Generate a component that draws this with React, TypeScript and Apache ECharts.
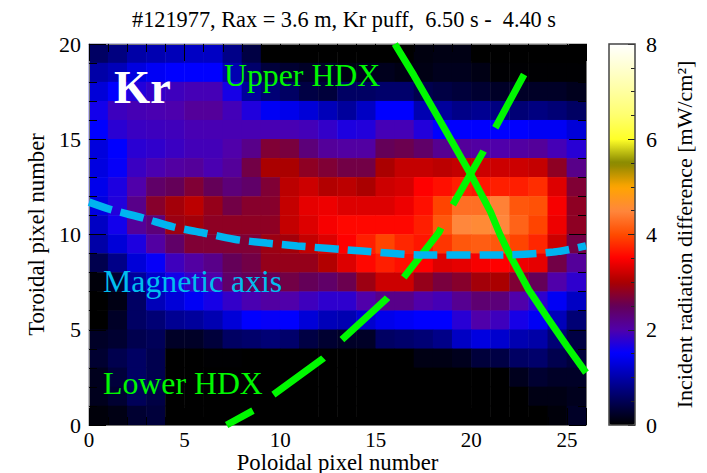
import React, { useEffect, useRef } from "react";
import * as echarts from "echarts";

const FONT = "Liberation Serif";
const titleText = "#121977, Rax = 3.6 m, Kr puff,  6.50 s -  4.40 s";

const xCategories = Array.from({ length: 26 }, (_, i) => String(i));
const yCategories = Array.from({ length: 20 }, (_, i) => String(i));

// rows listed from the top of the picture (toroidal pixel 19) to the bottom (0)
const row19 = [.58,.75,.98,1.04,1.09,1.15,1.15,.8,.4,0,0,0,0,0,0,0,0,.09,.12,.12,0,0,0,0,0,0];
const row18 = [.98,1.09,1.32,1.44,1.5,1.5,1.5,1.04,.63,.35,.29,.23,.23,.12,.17,.17,.12,.12,.17,.17,.12,.02,.02,.02,.02,.02];
const row17 = [1.27,1.5,1.71,1.82,1.89,1.93,1.93,1.64,.92,.69,.58,.4,.35,.58,.58,.63,.63,.46,.4,.35,.29,.23,.23,.23,.23,.17];
const row16 = [1.62,1.88,1.94,1.96,1.98,2.1,2.1,1.92,1.7,1.44,1.38,1.27,1.09,.92,1.15,1.5,1.5,1.04,.92,.8,.86,.75,.69,.75,.69,.58];
const row15 = [1.5,1.76,1.86,1.88,1.9,1.95,1.95,1.95,1.95,1.95,1.95,1.92,1.82,1.68,1.71,1.93,1.93,1.71,1.5,1.5,1.5,1.5,1.5,1.44,1.44,1.27];
const row14 = [1.3,1.5,1.76,1.8,1.86,1.92,1.92,2.0,2.2,2.7,2.65,2.3,2.1,2.05,2.05,2.5,2.55,2.4,2.15,2.1,2.05,2.0,2.05,2.1,1.93,1.75];
const row13 = [1.32,1.54,1.86,1.96,2.05,2.1,1.96,2.1,2.6,3.0,3.0,2.8,2.7,2.6,2.6,3.0,3.15,3.15,3.1,3.15,3.2,3.2,3.2,3.15,2.8,2.2];
const row12 = [1.38,1.68,2.0,2.4,2.5,2.7,2.5,2.3,2.4,2.7,3.1,3.2,3.05,3.1,3.0,3.2,3.25,3.5,3.6,3.7,3.65,3.7,3.7,3.8,3.3,2.7];
const row11 = [1.32,1.71,2.2,2.75,2.95,3.1,2.85,2.6,2.75,2.75,3.15,3.35,3.4,3.3,3.3,3.3,3.4,3.6,3.95,4.3,4.3,4.45,4.1,4.05,3.45,2.8];
const row10 = [1.15,1.61,2.1,2.3,2.9,2.95,2.8,2.8,2.8,2.8,3.15,3.3,3.45,3.55,3.55,3.55,3.55,3.7,4.1,4.5,4.55,4.5,4.2,3.95,3.4,2.8];
const row9 = [.98,1.27,1.68,2.05,2.4,2.7,2.7,2.7,2.7,2.9,2.95,3.15,3.3,3.5,3.7,3.95,3.75,3.65,3.85,4.1,4.15,4.1,3.95,3.75,3.2,2.6];
const row8 = [.46,.8,1.27,1.54,1.89,2.05,2.2,2.5,2.6,2.85,2.85,2.85,3.05,3.3,3.55,3.7,3.6,3.5,3.3,3.35,3.45,3.5,3.4,3.35,2.6,2.1];
const row7 = [.06,.29,.92,1.21,1.64,1.82,2.0,2.4,2.5,2.5,2.6,2.5,2.4,2.55,2.9,3.2,3.2,2.85,2.65,2.75,2.95,3.0,2.7,2.5,2.0,1.79];
const row6 = [0,.12,.58,1.09,1.27,1.44,1.64,1.82,1.96,2.05,2.0,1.89,1.79,1.79,2.0,2.2,2.2,2.0,1.93,2.15,2.35,2.3,2.0,1.79,1.44,1.15];
const row5 = [0,.23,.58,.69,.86,.92,1.04,1.27,1.5,1.54,1.5,1.27,1.09,1.04,1.21,1.38,1.44,1.5,1.5,1.75,2.0,1.89,1.64,1.44,1.09,.69];
const row4 = [.23,.29,.46,.52,.23,.23,.35,.58,.63,.69,.63,.4,.29,.23,.23,.58,.63,.69,.8,1.15,1.32,1.21,1.04,.98,.69,.4];
const row3 = [.29,.46,.58,.46,0,0,.02,.02,0,0,0,0,0,0,0,0,0,.12,.12,.17,.35,.4,.58,.63,.46,.35];
const row2 = [.17,.35,.58,.46,0,0,0,0,0,0,0,0,0,0,0,0,0,0,0,0,0,0,.17,.29,.23,.23];
const row1 = [.17,.29,.52,.4,0,0,0,0,0,0,0,0,0,0,0,0,0,0,0,0,0,0,0,.12,.12,.17];
const row0 = [.06,.12,.29,.35,0,0,0,0,0,0,0,0,0,0,0,0,0,0,0,0,0,0,0,0,.06,.23];
const rows = [row19,row18,row17,row16,row15,row14,row13,row12,row11,row10,row9,row8,row7,row6,row5,row4,row3,row2,row1,row0];

const colorStops = ["#000000","#000055","#0000AA","#0000FF","#5000AA","#640058","#AA0000","#FF0000","#FF4B00","#FF873C","#FFA500","#878700","#FFFF28","#FFFF6E","#FFFFA0","#FFFFD0","#FFFFFF"];

const upperHDX = [[16,20],[17,18.35],[18,16.6],[19,14.85],[20,13.1],[21,11.2],[21.5,10],[22,8.95],[23,7.1],[24,5.6],[25,4.15],[26,2.75]];
const lowerHDX = [[7.2,0],[8.6,.77],[9.6,1.56],[12.25,3.5],[13.2,4.45],[15.6,6.66],[16.4,7.66],[18.3,10.1],[19,11.5],[20.6,14.3],[21.2,15.5],[22.76,18.4]];
const magneticAxis = [[0,11.7],[1.2,11.29],[2.8,10.87],[4.4,10.4],[6,10.08],[7.6,9.75],[9.3,9.55],[10.9,9.4],[14.3,9.13],[17.6,8.92],[21,8.92],[24.3,9.08],[26,9.4]];

const heatData: number[][] = [];
rows.forEach((r, i) => r.forEach((v, x) => heatData.push([x, 19 - i, v])));

const serif = { fontFamily: FONT, color: "#000" };

function mainAxis(extra: any, max: number) {
  return {
    type: "value", min: 0, max, interval: 5, z: 3,
    axisLine: { show: true, onZero: false, lineStyle: { color: "#777", width: 1 } },
    axisTick: { show: true, inside: true, length: 17, lineStyle: { color: "#000", width: 1 } },
    minorTick: { show: true, splitNumber: 5, length: 8, lineStyle: { color: "#000", width: 1 } },
    splitLine: { show: false },
    ...extra,
  };
}

export default function App() {
  const ref = useRef<HTMLDivElement>(null);
  useEffect(() => {
    const chart = echarts.init(ref.current!, null, { renderer: "svg" });
    chart.setOption({
      animation: false,
      backgroundColor: "#fff",
      title: {
        text: titleText, left: 339, top: 3, textAlign: "center",
        textStyle: { ...serif, fontSize: 22.3, fontWeight: "normal" },
      },
      grid: [
        { left: 89, top: 44, width: 497, height: 381, containLabel: false, outerBoundsMode: "none" },
        { left: 609, top: 44, width: 26, height: 381, containLabel: false, outerBoundsMode: "none" },
      ],
      xAxis: [
        { type: "category", data: xCategories, gridIndex: 0, show: false },
        mainAxis({
          gridIndex: 0, position: "bottom",
          axisLabel: { ...serif, fontSize: 21, lineHeight: 17, margin: 6, showMaxLabel: false },
          name: "Poloidal pixel number", nameLocation: "middle", nameGap: 28, nameMoveOverlap: false,
          nameTextStyle: { ...serif, fontSize: 22.7, lineHeight: 18 },
        }, 26),
        mainAxis({ gridIndex: 0, position: "top", axisLabel: { show: false } }, 26),
        { type: "value", gridIndex: 1, show: false, min: 0, max: 1 },
      ],
      yAxis: [
        { type: "category", data: yCategories, gridIndex: 0, show: false },
        mainAxis({
          gridIndex: 0, position: "left",
          axisLabel: { ...serif, fontSize: 22, margin: 8 },
          name: "Toroidal pixel number", nameLocation: "middle", nameGap: 41, nameMoveOverlap: false,
          nameTextStyle: { ...serif, fontSize: 22.7 },
        }, 20),
        mainAxis({ gridIndex: 0, position: "right", axisLabel: { show: false } }, 20),
        {
          type: "value", gridIndex: 1, position: "right", min: 0, max: 8, interval: 2, z: 6,
          axisLine: { show: false, onZero: false },
          axisTick: { show: true, inside: true, length: 7, lineStyle: { color: "#222", width: 1 } },
          minorTick: { show: true, splitNumber: 4, length: 4, lineStyle: { color: "#222", width: 1 } },
          splitLine: { show: false },
          axisLabel: { ...serif, fontSize: 22, margin: 11 },
          name: "Incident radiation difference [mW/cm²]", nameLocation: "middle", nameGap: 38, nameRotate: 90, nameMoveOverlap: false,
          nameTextStyle: { ...serif, fontSize: 22 },
        },
      ],
      visualMap: {
        type: "continuous", seriesIndex: 0, min: 0, max: 8, calculable: false, realtime: false,
        itemWidth: 26, itemHeight: 381, left: 609, top: 44, padding: 0, z: 4, hoverLink: false,
        text: undefined, showLabel: false, inRange: { color: colorStops },
      },
      series: [
        {
          type: "heatmap", data: heatData, xAxisIndex: 0, yAxisIndex: 0, z: 2,
          progressive: 0, itemStyle: { borderWidth: 0 }, emphasis: { disabled: true },
        },
        {
          type: "line", name: "Upper HDX", data: upperHDX, xAxisIndex: 1, yAxisIndex: 1, z: 4, smooth: false,
          showSymbol: false, lineStyle: { color: "#00F800", width: 7, cap: "butt" },
        },
        {
          type: "line", name: "Lower HDX", data: lowerHDX, xAxisIndex: 1, yAxisIndex: 1, z: 4,
          showSymbol: false, lineStyle: { color: "#00F800", width: 7, type: [62, 26], dashOffset: 32, cap: "butt" },
        },
        {
          type: "line", name: "Magnetic axis", data: magneticAxis, xAxisIndex: 1, yAxisIndex: 1, z: 4, smooth: 0.3,
          showSymbol: false, lineStyle: { color: "#00B4F0", width: 7.5, type: [24, 9], cap: "butt" },
        },
      ],
      graphic: [
        { type: "text", x: 114, y: 87, z: 10, style: { text: "Kr", fill: "#fff", font: `bold 46.5px "${FONT}"`, verticalAlign: "middle" } },
        { type: "text", x: 224, y: 75, z: 10, style: { text: "Upper HDX", fill: "#00F800", font: `31.8px "${FONT}"`, verticalAlign: "middle" } },
        { type: "text", x: 103, y: 281, z: 10, style: { text: "Magnetic axis", fill: "#00BEEF", font: `31.8px "${FONT}"`, verticalAlign: "middle" } },
        { type: "text", x: 103, y: 383, z: 10, style: { text: "Lower HDX", fill: "#00F800", font: `31.8px "${FONT}"`, verticalAlign: "middle" } },
        { type: "rect", z: 10, shape: { x: 609, y: 44, width: 26, height: 381 }, style: { fill: "none", stroke: "#444", lineWidth: 1.5 } },
      ],
    });
    return () => chart.dispose();
  }, []);
  return <div ref={ref} style={{ position: "fixed", left: 0, top: 0, width: 707, height: 473, background: "#fff" }} />;
}
